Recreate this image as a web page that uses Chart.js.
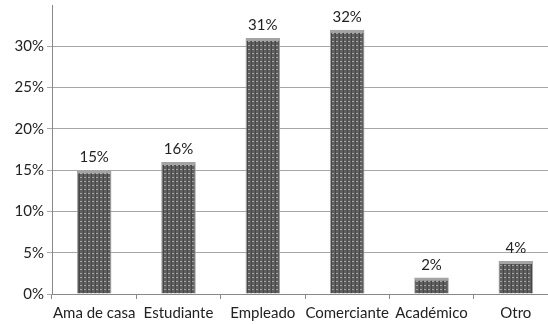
<!DOCTYPE html>
<html>
<head>
<meta charset="utf-8">
<script src="https://cdn.jsdelivr.net/npm/chart.js@4"></script>
<style>
  html, body { margin: 0; padding: 0; background: #fff; overflow: hidden; }
  #wrap { position: absolute; left: 0; top: -7px; width: 558px; height: 331px; }
</style>
</head>
<body>
<div id="wrap"><canvas id="occChart"></canvas></div>
<script>
// Data for the chart
const categories = ['Ama de casa', 'Estudiante', 'Empleado', 'Comerciante', 'Académico', 'Otro'];
const percentages = [15, 16, 31, 32, 2, 4];
const yTicks = [0, 5, 10, 15, 20, 25, 30, 35];

const FONT = 'Lato, "Open Sans", sans-serif';

// Dotted dark texture for the bars
function makePattern() {
  const c = document.createElement('canvas');
  c.width = 4;
  c.height = 4;
  const p = c.getContext('2d');
  p.fillStyle = '#5e5e5e';
  p.fillRect(0, 0, 4, 4);
  p.fillStyle = '#a4a4a4';
  p.fillRect(0, 0, 2, 1);
  p.fillStyle = '#474747';
  p.fillRect(3, 0, 1, 4);
  return p.createPattern(c, 'repeat');
}

// Percent labels above each bar
const valueLabels = {
  id: 'valueLabels',
  afterDatasetsDraw(chart) {
    const ctx = chart.ctx;
    ctx.save();
    ctx.font = '15px ' + FONT;
    ctx.fillStyle = '#222';
    ctx.textAlign = 'center';
    ctx.textBaseline = 'bottom';
    chart.getDatasetMeta(0).data.forEach((bar, i) => {
      ctx.fillText(percentages[i] + '%', bar.x, bar.y - 5);
    });
    ctx.restore();
  }
};

const ctx = document.getElementById('occChart').getContext('2d');

const occChart = new Chart(ctx, {
  type: 'bar',
  data: {
    labels: categories,
    datasets: [{
      data: percentages,
      backgroundColor: makePattern(),
      borderColor: '#a4a4a4',
      borderWidth: { top: 3, left: 1, right: 1, bottom: 0 },
      borderSkipped: false,
      categoryPercentage: 1,
      barPercentage: 0.41,
    }],
  },
  options: {
    responsive: true,
    maintainAspectRatio: false,
    animation: false,
    layout: { padding: { top: 10, right: 0, bottom: 0, left: 0 } },
    plugins: {
      legend: { display: false },
      tooltip: { enabled: false },
    },
    scales: {
      x: {
        grid: {
          display: true,
          offset: true,
          drawOnChartArea: false,
          tickLength: 5,
          color: '#888',
        },
        border: { color: '#888' },
        ticks: {
          color: '#222',
          font: { family: FONT, size: 15 },
          padding: 5,
          maxRotation: 0,
          autoSkip: false,
        },
        afterFit: (s) => { s.height = 30; },
      },
      y: {
        min: 0,
        max: 35,
        afterBuildTicks: (s) => { s.ticks = yTicks.map(v => ({ value: v })); },
        grid: {
          color: (c) => (c.tick && c.tick.value === 35 ? 'rgba(0,0,0,0)' : '#a6a6a6'),
          tickLength: 5,
        },
        border: { color: '#888' },
        ticks: {
          color: (c) => (c.tick && c.tick.value === 35 ? 'rgba(0,0,0,0)' : '#222'),
          font: { family: FONT, size: 15 },
          padding: 3,
          callback: (v) => v + '%',
        },
        afterFit: (s) => { s.width = 52; },
      },
    },
  },
  plugins: [valueLabels],
});
</script>
</body>
</html>
